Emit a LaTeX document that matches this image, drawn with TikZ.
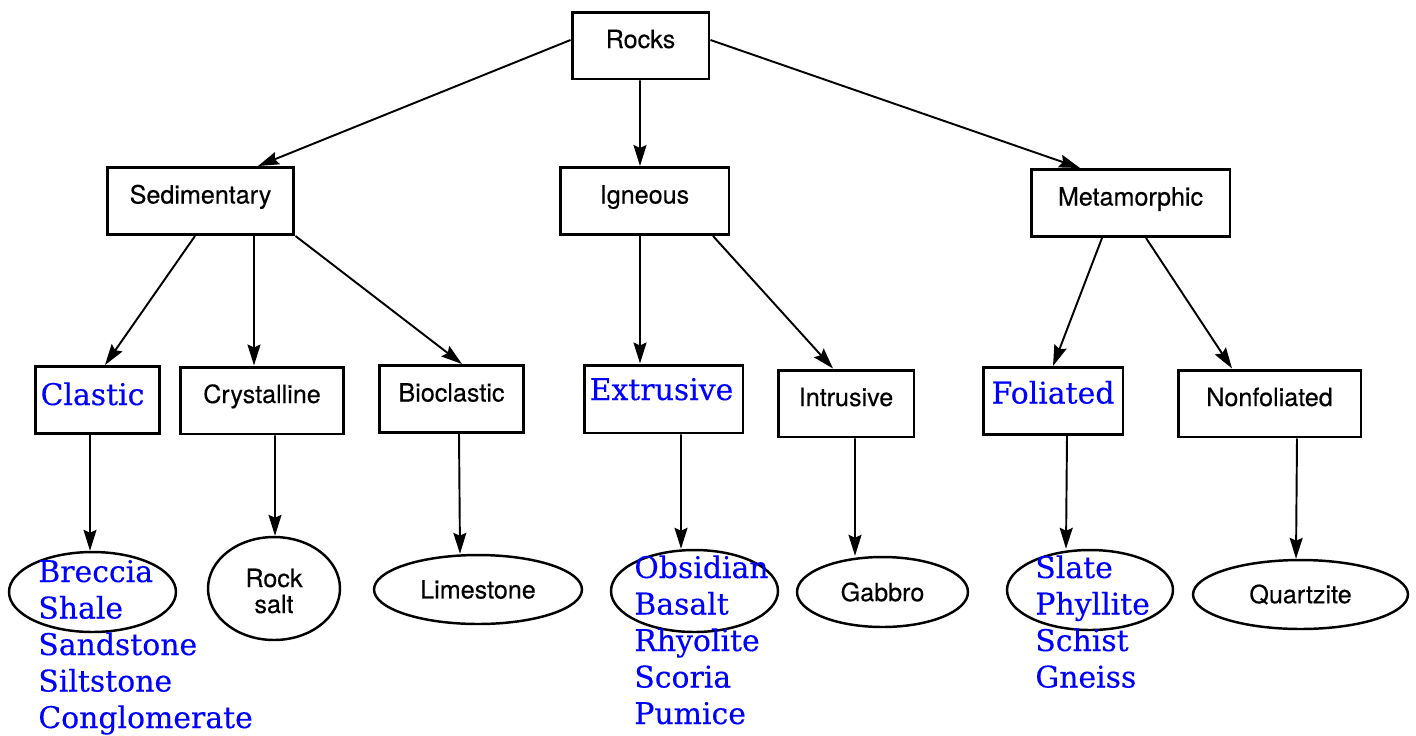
\documentclass[tikz,border=0pt]{standalone}
\usepackage{fontspec}
\usetikzlibrary{arrows.meta,shapes.geometric}
\newfontfamily\boxfont[FakeBold=0.3]{TeX Gyre Heros}
\newfontfamily\listfont[FakeBold=0.3]{DejaVu Serif}

\begin{document}
\begin{tikzpicture}[x=0.02cm,y=-0.02cm]
		\tikzstyle{box}=[rectangle, draw=black, line width=1.7pt, inner sep=0pt, minimum height=1.34cm, text height=0.72cm, text depth=0.62cm, font=\boxfont\fontsize{14.3}{17}\selectfont]
		\tikzstyle{bluebox}=[box, text=blue, font=\listfont\fontsize{17}{21}\selectfont]
		\tikzstyle{leaf}=[ellipse, draw=black, line width=1.4pt, inner sep=0pt, font=\boxfont\fontsize{14.3}{17}\selectfont]
		\tikzstyle{list}=[anchor=base west, inner sep=0pt, text=blue, font=\listfont\fontsize{17}{21}\selectfont]
		\tikzstyle{connect}=[-{Stealth[length=0.42cm, width=0.26cm, inset=0.06cm]}, line width=1.1pt]
		\useasboundingbox (0,0) rectangle (1416,735);
		
		% top levels
		\node[box, minimum width=2.74cm] (rocks) at (640.5,45.5) {Rocks};
		\node[box, minimum width=3.74cm] (sed) at (200.5,201) {Sedimentary};
		\node[box, minimum width=3.38cm] (ign) at (644.5,201) {Igneous};
		\node[box, minimum width=3.98cm] (meta) at (1130.5,203) {Metamorphic};
		
		\node[bluebox, minimum width=2.50cm, text height=0.77cm, text depth=0.57cm] (clastic) at (97.5,400) {\hspace*{-0.2cm}Clastic};
		\node[box, minimum width=3.28cm] (cryst) at (262,400.5) {Crystalline};
		\node[box, minimum width=2.90cm] (bio) at (451.5,399) {Bioclastic};
		\node[bluebox, minimum width=3.18cm, text height=0.70cm, text depth=0.66cm] (extr) at (663.5,399) {\hspace*{-0.08cm}Extrusive};
		\node[box, minimum width=2.72cm] (intr) at (846,403.5) {Intrusive};
		\node[bluebox, minimum width=2.80cm] (fol) at (1053,401) {Foliated};
		\node[box, minimum width=3.66cm] (nonfol) at (1269.5,403.5) {Nonfoliated};
		
		% leaves
		\node[leaf, minimum width=3.34cm, minimum height=1.60cm] (clasticEll) at (92.5,592) {};
		\node[leaf, minimum width=2.64cm, minimum height=2.06cm, text height=1.0cm, text depth=0.02cm] (salt) at (274,588.5) {\shortstack{Rock\\[0.04cm]salt}};
		\node[leaf, minimum width=4.16cm, minimum height=1.38cm] (lime) at (478,589.5) {Limestone};
		\node[leaf, minimum width=3.34cm, minimum height=1.64cm] (extrEll) at (694.5,591) {};
		\node[leaf, minimum width=3.42cm, minimum height=1.40cm] (gabbro) at (882.5,592) {Gabbro};
		\node[leaf, minimum width=3.32cm, minimum height=1.60cm] (folEll) at (1090,590) {};
		\node[leaf, minimum width=4.30cm, minimum height=1.38cm] (quartz) at (1300.5,594.5) {Quartzite};
		
		\foreach \name [count=\i from 0] in {Breccia,Shale,Sandstone,Siltstone,Conglomerate}
			\node[list] (clastic\i) at (38,582+36.5*\i) {\name};
		\foreach \name [count=\i from 0] in {Obsidian,Basalt,Rhyolite,Scoria,Pumice}
			\node[list] (extr\i) at (634,578+36.5*\i) {\name};
		\foreach \name [count=\i from 0] in {Slate,Phyllite,Schist,Gneiss}
			\node[list] (fol\i) at (1035,578+36.5*\i) {\name};
		
		\path ([yshift=0.11cm]rocks.west) edge [connect] ([xshift=1.15cm]sed.north);
		\path ([xshift=-0.01cm]rocks.south) edge [connect] ([xshift=-0.09cm]ign.north);
		\path ([yshift=0.11cm]rocks.east) edge [connect] ([xshift=-1.01cm]meta.north);
		
		\path ([xshift=-0.11cm]sed.south) edge [connect] ([xshift=0.15cm]clastic.north);
		\path ([xshift=1.07cm]sed.south) edge [connect] ([xshift=-0.16cm]cryst.north);
		\path (sed.south east) edge [connect] ([xshift=0.21cm]bio.north);
		\path ([xshift=-0.09cm]ign.south) edge [connect] ([xshift=-0.47cm]extr.north);
		\path ([xshift=1.37cm]ign.south) edge [connect] ([xshift=-0.26cm]intr.north);
		\path ([xshift=-0.57cm]meta.south) edge [connect] (fol.north);
		\path ([xshift=0.31cm]meta.south) edge [connect] ([xshift=-0.75cm]nonfol.north);
		
		\path ([xshift=-0.15cm]clastic.south) edge [connect] ([xshift=-0.05cm]clasticEll.north);
		\path ([xshift=0.26cm]cryst.south) edge [connect] ([xshift=0.02cm]salt.north);
		\path ([xshift=0.15cm]bio.south) edge [connect] ([xshift=-0.36cm]lime.north);
		\path ([xshift=0.35cm]extr.south) edge [connect] ([xshift=-0.27cm]extrEll.north);
		\path ([xshift=0.18cm]intr.south) edge [connect] ([xshift=-0.55cm]gabbro.north);
		\path ([xshift=0.28cm]fol.south) edge [connect] ([xshift=-0.48cm]folEll.north);
		\path ([xshift=0.55cm]nonfol.south) edge [connect] ([xshift=-0.09cm]quartz.north);
	\end{tikzpicture}
\end{document}
